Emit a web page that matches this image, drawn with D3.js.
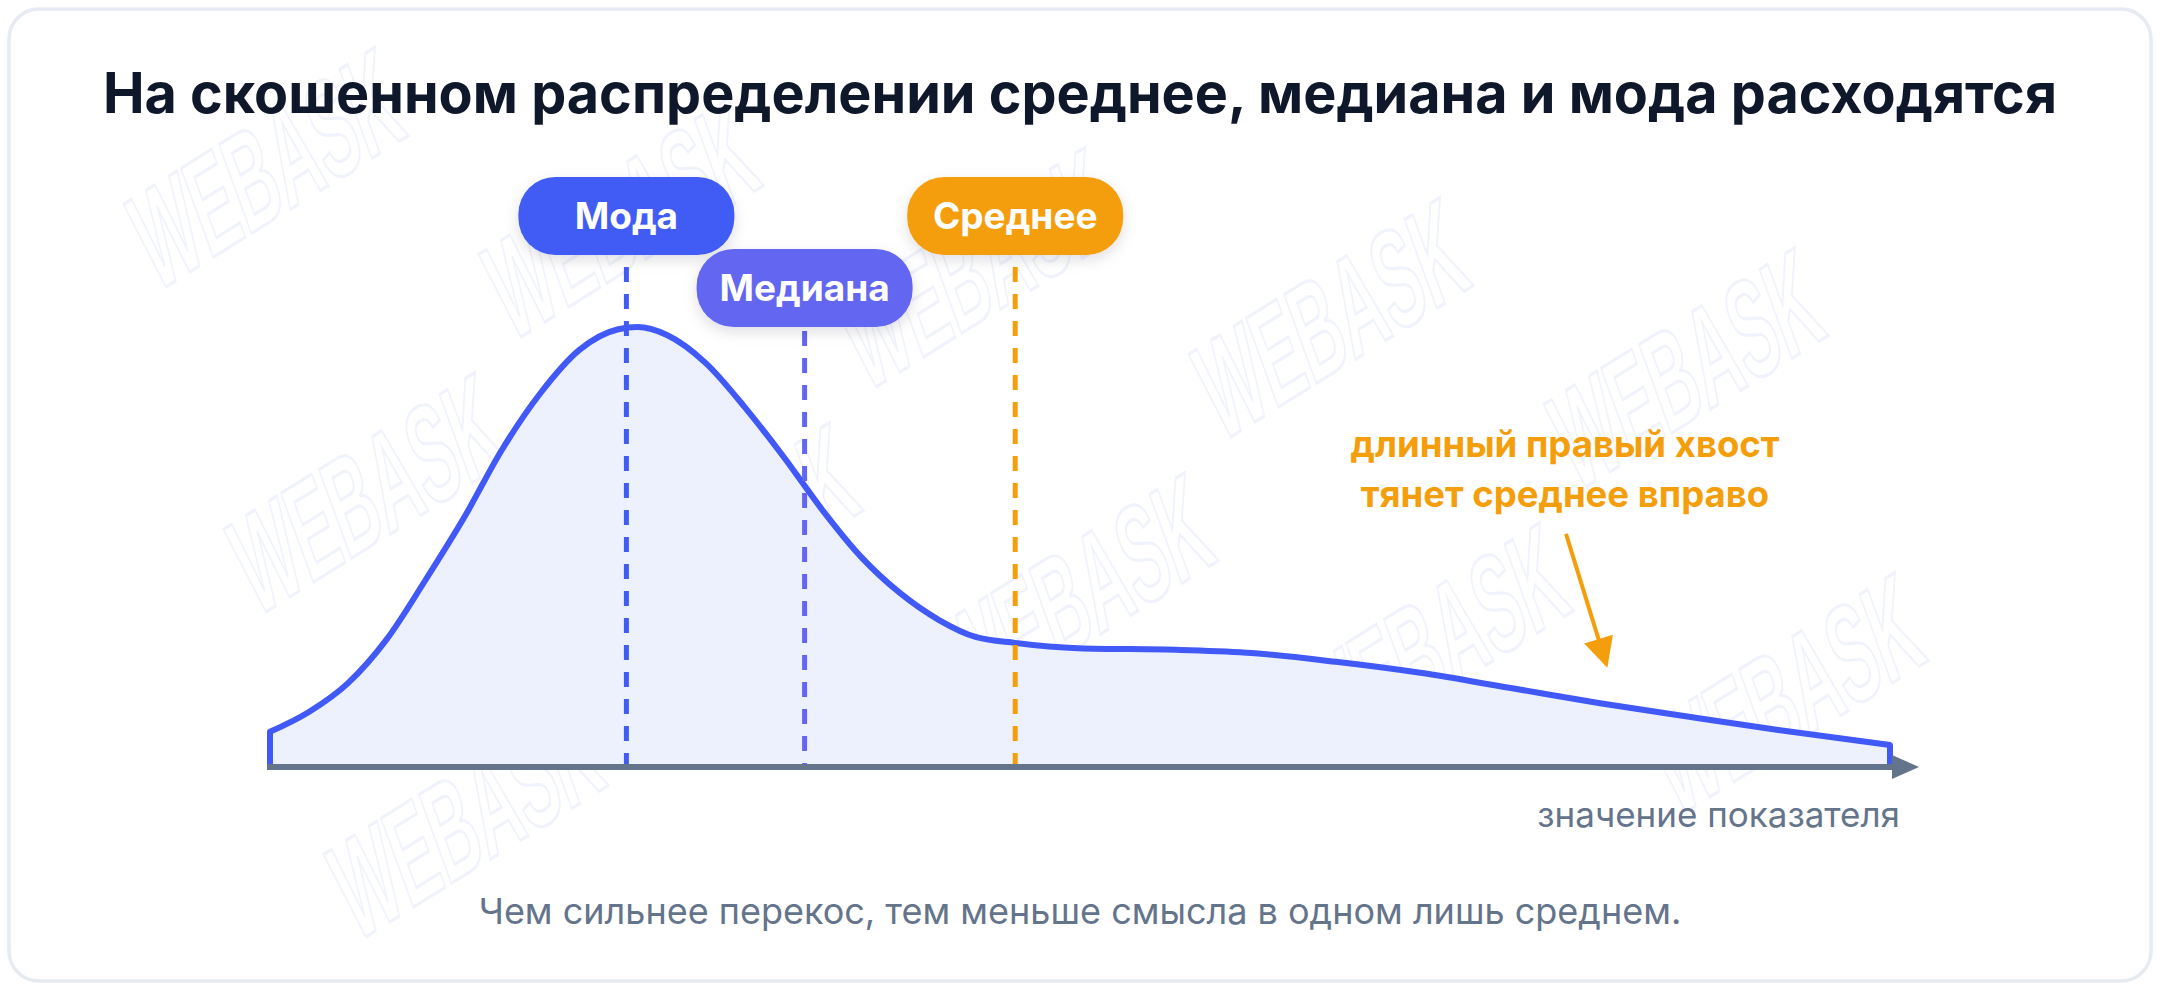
<!DOCTYPE html>
<html lang="ru">
<head>
    <meta charset="UTF-8">
    <title>Скошенное распределение</title>
    <style>
        body {
            margin: 0;
            padding: 0;
            background: #ffffff;
            font-family: Inter, "Noto Sans", Roboto, sans-serif;
        }
        #chart svg {
            display: block;
        }
    </style>
</head>
<body>
    <div id="chart"></div>
    <script src="https://d3js.org/d3.v7.min.js"></script>
    <script>
        // Curve (value on the indicator axis, density relative to the peak)
        const curveX = [0, 2.4, 4.8, 7.2, 9.6, 12, 14.3, 16.7, 19.1, 21.5, 22.7, 24.5, 26.9, 29.3, 31.7,
                        34.1, 36.5, 38.9, 41.3, 43.6, 46, 49.9, 56.2, 60.6, 65.8, 71, 76.5, 82.1, 87.6, 93.1, 100];
        const curveY = [0.08, 0.125, 0.19, 0.29, 0.425, 0.568, 0.72, 0.85, 0.948, 0.995, 1.0, 0.982, 0.918, 0.818, 0.705,
                        0.584, 0.477, 0.395, 0.334, 0.295, 0.282, 0.27, 0.266, 0.259, 0.239, 0.214, 0.18, 0.145, 0.114, 0.084, 0.05];

        // Markers: mode, median, mean
        const markerNames = ['Мода', 'Медиана', 'Среднее'];
        const markerValues = [22, 33, 46];
        const markerRow = [0, 1, 0];
        const markerColors = ['#405cf5', '#6366f1', '#f59e0b'];

        const titleText = 'На скошенном распределении среднее, медиана и мода расходятся';
        const noteLines = ['длинный правый хвост', 'тянет среднее вправо'];
        const noteArrow = [[80, 0.53], [82.5, 0.232]];
        const axisLabel = 'значение показателя';
        const footText = 'Чем сильнее перекос, тем меньше смысла в одном лишь среднем.';

        const width = 2160, height = 990;

        const svg = d3.select('#chart').append('svg')
            .attr('width', width)
            .attr('height', height);

        const defs = svg.append('defs');
        const shadow = defs.append('filter').attr('id', 'shadow')
            .attr('x', '-20%').attr('y', '-30%').attr('width', '140%').attr('height', '170%');
        shadow.append('feDropShadow')
            .attr('dx', 0).attr('dy', 5).attr('stdDeviation', 7)
            .attr('flood-color', '#0f172a').attr('flood-opacity', 0.13);

        defs.append('marker')
            .attr('id', 'arrowhead')
            .attr('viewBox', '0 0 10 10')
            .attr('refX', 9).attr('refY', 5)
            .attr('markerUnits', 'userSpaceOnUse')
            .attr('orient', 'auto')
            .attr('markerWidth', 34).attr('markerHeight', 30)
            .append('path')
            .attr('d', 'M0,0 L10,5 L0,10 Z')
            .attr('fill', '#f59e0b');

        // card
        svg.append('rect')
            .attr('x', 9).attr('y', 9)
            .attr('width', width - 18).attr('height', height - 18)
            .attr('rx', 30)
            .attr('fill', '#ffffff')
            .attr('stroke', '#e6ebf2')
            .attr('stroke-width', 3.5);

        // faint watermark tiles (only the ones that fit inside the card)
        const wm = svg.append('g').attr('class', 'watermark');
        for (let i = -3; i < 8; i++) {
            for (let j = -2; j < 5; j++) {
                const cx = 270 + i * 355 + j * 100;
                const cy = 180 + i * 50 + j * 325;
                if (cx < 220 || cx > width - 220 || cy < 150 || cy > height - 150) continue;
                wm.append('text')
                    .attr('transform', `translate(${cx},${cy}) rotate(-32) skewX(-12) scale(0.7,1.4)`)
                    .attr('text-anchor', 'middle')
                    .attr('dominant-baseline', 'middle')
                    .attr('font-family', '"Liberation Sans", Arial, sans-serif')
                    .attr('font-weight', 700)
                    .attr('font-size', 96)
                    .attr('fill', 'none')
                    .attr('stroke', '#f0f3fb')
                    .attr('stroke-width', 2.2)
                    .text('WEBASK');
            }
        }

        const x = d3.scaleLinear().domain([0, 100]).range([270, 1890]);
        const y = d3.scaleLinear().domain([0, 1]).range([767, 327]);

        const pts = curveX.map((v, i) => [v, curveY[i]]);

        const area = d3.area()
            .x(d => x(d[0]))
            .y0(y(0))
            .y1(d => y(d[1]))
            .curve(d3.curveMonotoneX);

        const line = d3.line()
            .x(d => x(d[0]))
            .y(d => y(d[1]))
            .curve(d3.curveMonotoneX);

        const g = svg.append('g');

        g.append('path')
            .attr('d', area(pts))
            .attr('fill', '#edf1fd');

        // outline with the vertical edges down to the axis
        const outline = `M${x(curveX[0])},${y(0)}L` + line(pts).slice(1) +
            `L${x(curveX[curveX.length - 1])},${y(0)}`;
        g.append('path')
            .attr('d', outline)
            .attr('fill', 'none')
            .attr('stroke', '#4159f6')
            .attr('stroke-width', 6)
            .attr('stroke-linejoin', 'round');

        // axis arrow
        const [ax0, ax1] = x.range();
        g.append('line')
            .attr('x1', ax0 - 3).attr('x2', ax1 + 4)
            .attr('y1', y(0)).attr('y2', y(0))
            .attr('stroke', '#64748b')
            .attr('stroke-width', 6);
        g.append('path')
            .attr('d', `M${ax1 + 2},${y(0) - 12} L${ax1 + 29},${y(0)} L${ax1 + 2},${y(0) + 12} Z`)
            .attr('fill', '#64748b');

        // markers
        const badgeW = 216, badgeH = 78, badgeTop = 177, rowStep = 72;
        markerNames.forEach((name, i) => {
            const cx = x(markerValues[i]);
            const top = badgeTop + markerRow[i] * rowStep;
            const lineStart = markerRow[i] === 0 ? top + badgeH + 12 : top + badgeH + 4;

            g.append('line')
                .attr('x1', cx).attr('x2', cx)
                .attr('y1', lineStart).attr('y2', y(0) - 3)
                .attr('stroke', markerColors[i])
                .attr('stroke-width', 5)
                .attr('stroke-dasharray', '15 12');

            g.append('rect')
                .attr('x', cx - badgeW / 2).attr('y', top)
                .attr('width', badgeW).attr('height', badgeH)
                .attr('rx', 37)
                .attr('fill', markerColors[i])
                .attr('filter', 'url(#shadow)');

            g.append('text')
                .attr('x', cx).attr('y', top + badgeH / 2 + 13)
                .attr('text-anchor', 'middle')
                .attr('font-size', 37)
                .attr('font-weight', 700)
                .attr('fill', '#ffffff')
                .text(name);
        });

        // annotation
        const noteX = x(noteArrow[0][0]) - 1;
        noteLines.forEach((t, i) => {
            g.append('text')
                .attr('x', noteX).attr('y', 457 + i * 50)
                .attr('text-anchor', 'middle')
                .attr('font-size', 36.5)
                .attr('font-weight', 700)
                .attr('fill', '#f59e0b')
                .text(t);
        });
        g.append('line')
            .attr('x1', x(noteArrow[0][0])).attr('y1', y(noteArrow[0][1]))
            .attr('x2', x(noteArrow[1][0])).attr('y2', y(noteArrow[1][1]))
            .attr('stroke', '#f59e0b')
            .attr('stroke-width', 4)
            .attr('marker-end', 'url(#arrowhead)');

        // texts
        svg.append('text')
            .attr('x', width / 2).attr('y', 113)
            .attr('text-anchor', 'middle')
            .attr('font-size', 55.7)
            .attr('font-weight', 700)
            .attr('fill', '#0f172a')
            .text(titleText);

        svg.append('text')
            .attr('x', 1900).attr('y', 827)
            .attr('text-anchor', 'end')
            .attr('font-size', 35)
            .attr('fill', '#64748b')
            .text(axisLabel);

        svg.append('text')
            .attr('x', width / 2).attr('y', 924)
            .attr('text-anchor', 'middle')
            .attr('font-size', 36)
            .attr('fill', '#64748b')
            .text(footText);
    </script>
</body>
</html>
